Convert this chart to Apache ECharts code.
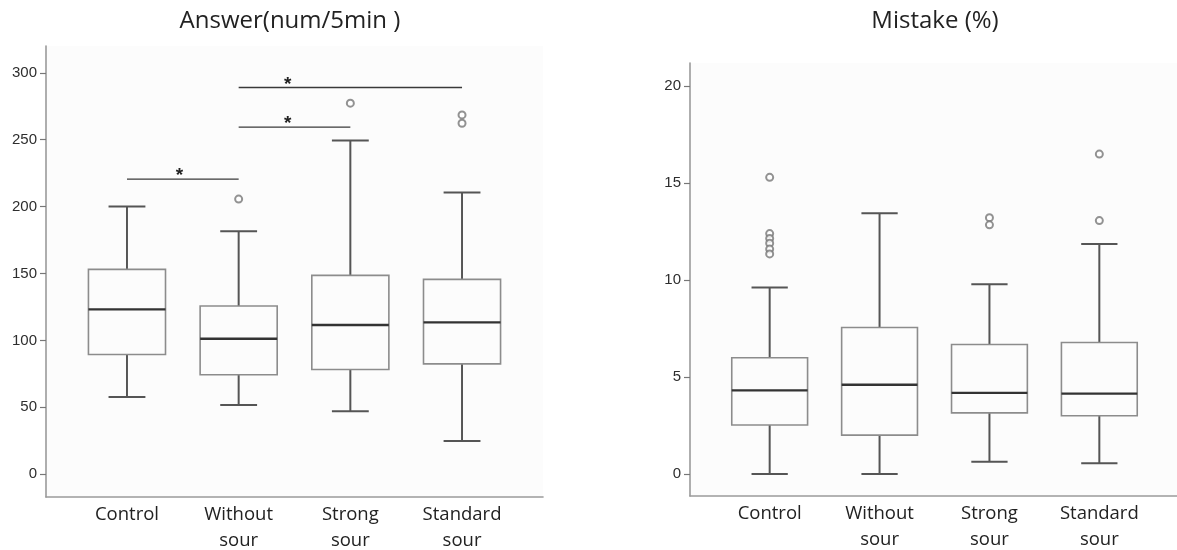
<!DOCTYPE html>
<html>
<head>
<meta charset="utf-8">
<script src="https://cdn.jsdelivr.net/npm/echarts@6/dist/echarts.min.js"></script>
<style>
  html, body { margin: 0; padding: 0; background: #ffffff; }
  #chart { width: 1177px; height: 550px; }
</style>
</head>
<body>
<div id="chart"></div>
<script>
// ---------- data ----------
const categories = ['Control', 'Without\nsour', 'Strong\nsour', 'Standard\nsour'];

// [lower whisker, Q1, median, Q3, upper whisker]
const answerBoxes = [
  [57.8, 89.5, 123.2, 153.1, 200.0],
  [51.8, 74.3, 101.2, 125.7, 181.6],
  [47.1, 78.3, 111.5, 148.6, 249.3],
  [24.9, 82.5, 113.5, 145.6, 210.6]
];
// [category position, value]
const answerOutliers = [[2, 205.6], [3, 277.3], [4, 268.5], [4, 262.3]];
// [from, to, level, star position]
const answerSignificance = [[1, 2, 220.5, 1.47], [2, 3, 259.4, 2.44], [2, 4, 289.0, 2.44]];
const answerTicks = [0, 50, 100, 150, 200, 250, 300];

const mistakeBoxes = [
  [0.00, 2.52, 4.31, 5.99, 9.62],
  [0.00, 2.00, 4.60, 7.55, 13.45],
  [0.63, 3.15, 4.18, 6.68, 9.78],
  [0.55, 3.00, 4.14, 6.78, 11.86]
];
const mistakeOutliers = [
  [1, 15.3], [1, 12.4], [1, 12.15], [1, 11.9], [1, 11.6], [1, 11.35],
  [3, 13.22], [3, 12.85],
  [4, 16.5], [4, 13.07]
];
const mistakeTicks = [0, 5, 10, 15, 20];

const titles = ['Answer(num/5min )', 'Mistake (%)'];

// ---------- styling ----------
const BOX_W = 0.69, CAP_W = 0.33;
const AXIS_COLOR = '#9a9a9a';
const LABEL_FONT = 'Liberation Sans, Arial, sans-serif';
const TEXT_FONT = '"Open Sans", "Noto Sans", sans-serif';

function renderBox(params, api) {
  const x = api.value(0);
  const lo = api.coord([x, api.value(1)]);
  const q1 = api.coord([x, api.value(2)]);
  const md = api.coord([x, api.value(3)]);
  const q3 = api.coord([x, api.value(4)]);
  const hi = api.coord([x, api.value(5)]);
  const bw = api.size([BOX_W, 0])[0];
  const cw = api.size([CAP_W, 0])[0];
  const cx = lo[0];
  const wStyle = { stroke: '#555555', lineWidth: 2, fill: null };
  return {
    type: 'group',
    children: [
      { type: 'line', shape: { x1: cx, y1: hi[1], x2: cx, y2: q3[1] }, style: wStyle },
      { type: 'line', shape: { x1: cx, y1: q1[1], x2: cx, y2: lo[1] }, style: wStyle },
      { type: 'line', shape: { x1: cx - cw / 2, y1: hi[1], x2: cx + cw / 2, y2: hi[1] }, style: wStyle },
      { type: 'line', shape: { x1: cx - cw / 2, y1: lo[1], x2: cx + cw / 2, y2: lo[1] }, style: wStyle },
      { type: 'rect', shape: { x: cx - bw / 2, y: q3[1], width: bw, height: q1[1] - q3[1] },
        style: { fill: 'rgba(0,0,0,0)', stroke: '#8c8c8c', lineWidth: 1.6 } },
      { type: 'line', shape: { x1: cx - bw / 2, y1: md[1], x2: cx + bw / 2, y2: md[1] },
        style: { stroke: '#333333', lineWidth: 2.4 } }
    ]
  };
}

function renderSig(params, api) {
  const y = api.value(2);
  const a = api.coord([api.value(0), y]);
  const b = api.coord([api.value(1), y]);
  const s = api.coord([api.value(3), y]);
  return {
    type: 'group',
    children: [
      { type: 'line', shape: { x1: a[0], y1: a[1], x2: b[0], y2: b[1] },
        style: { stroke: '#3a3a3a', lineWidth: 1.3 } },
      { type: 'text', x: s[0], y: s[1] - 3,
        style: { text: '*', fill: '#222', font: 'bold 19px ' + LABEL_FONT, textAlign: 'center', textVerticalAlign: 'middle' } }
    ]
  };
}

function xAxisFor(gridIndex) {
  return {
    type: 'value', gridIndex: gridIndex, min: 0.275, max: 4.725,
    splitLine: { show: false },
    axisTick: { show: false },
    axisLine: { onZero: false, lineStyle: { color: AXIS_COLOR, width: 1.6 } },
    axisLabel: {
      customValues: [1, 2, 3, 4],
      formatter: v => categories[Math.round(v) - 1] || '',
      color: '#222', fontFamily: TEXT_FONT, fontSize: 18.5, lineHeight: 26, margin: 5
    }
  };
}

function yAxisFor(gridIndex, min, max, ticks) {
  return {
    type: 'value', gridIndex: gridIndex, min: min, max: max,
    splitLine: { show: false },
    axisLine: { show: true, onZero: false, lineStyle: { color: AXIS_COLOR, width: 1.6 } },
    axisTick: { show: true, customValues: ticks, length: 6, lineStyle: { color: '#777', width: 1.2 } },
    axisLabel: { customValues: ticks, color: '#2e2e2e', fontFamily: LABEL_FONT, fontSize: 15, margin: 9 }
  };
}

const outlierStyle = { color: '#777', borderColor: '#777', borderWidth: 1.6 };

const chart = echarts.init(document.getElementById('chart'), null, { renderer: 'canvas' });
chart.setOption({
  animation: false,
  backgroundColor: '#ffffff',
  graphic: [
    { type: 'text', x: 290, y: 21, style: { text: titles[0], font: '24px ' + TEXT_FONT, fill: '#222', textAlign: 'center', textVerticalAlign: 'middle' } },
    { type: 'text', x: 935, y: 21, style: { text: titles[1], font: '24px ' + TEXT_FONT, fill: '#222', textAlign: 'center', textVerticalAlign: 'middle' } }
  ],
  grid: [
    { left: 46, right: 634, top: 46, bottom: 53, outerBoundsMode: 'none', containLabel: false,
      show: true, backgroundColor: '#fcfcfc', borderWidth: 0 },
    { left: 690, right: -2, top: 63, bottom: 54, outerBoundsMode: 'none', containLabel: false,
      show: true, backgroundColor: '#fcfcfc', borderWidth: 0 }
  ],
  xAxis: [xAxisFor(0), xAxisFor(1)],
  yAxis: [yAxisFor(0, -17, 320, answerTicks), yAxisFor(1, -1.14, 21.2, mistakeTicks)],
  series: [
    { type: 'custom', xAxisIndex: 0, yAxisIndex: 0, renderItem: renderBox,
      encode: { x: 0, y: [1, 2, 3, 4, 5] },
      data: answerBoxes.map((b, i) => [i + 1].concat(b)) },
    { type: 'scatter', xAxisIndex: 0, yAxisIndex: 0, symbol: 'emptyCircle', symbolSize: 7,
      itemStyle: outlierStyle, data: answerOutliers },
    { type: 'custom', xAxisIndex: 0, yAxisIndex: 0, renderItem: renderSig,
      encode: { x: [0, 1], y: 2 }, data: answerSignificance },
    { type: 'custom', xAxisIndex: 1, yAxisIndex: 1, renderItem: renderBox,
      encode: { x: 0, y: [1, 2, 3, 4, 5] },
      data: mistakeBoxes.map((b, i) => [i + 1].concat(b)) },
    { type: 'scatter', xAxisIndex: 1, yAxisIndex: 1, symbol: 'emptyCircle', symbolSize: 7,
      itemStyle: outlierStyle, data: mistakeOutliers }
  ]
});
</script>
</body>
</html>
